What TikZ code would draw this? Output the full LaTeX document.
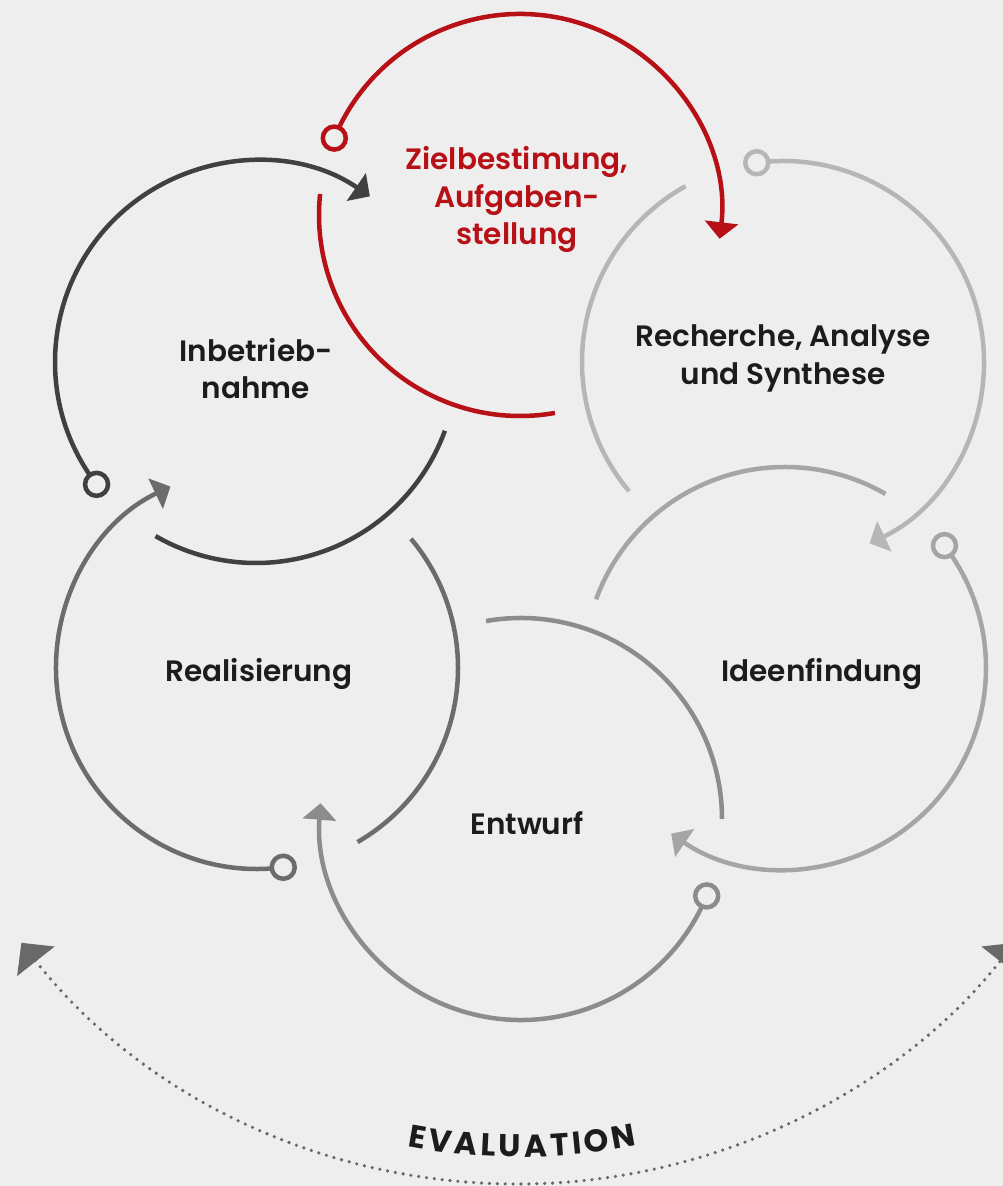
\documentclass[tikz,border=0pt]{standalone}
\usepackage{fontspec}
\setmainfont{Poppins}[UprightFont=* SemiBold, BoldFont=* Bold]
\usetikzlibrary{arrows.meta,calc}
\definecolor{bg}{RGB}{238,238,238}
\definecolor{cA}{RGB}{183,16,22}
\definecolor{cB}{RGB}{182,182,182}
\definecolor{cC}{RGB}{165,165,165}
\definecolor{cD}{RGB}{140,140,140}
\definecolor{cE}{RGB}{108,108,108}
\definecolor{cF}{RGB}{64,64,64}
\definecolor{txt}{RGB}{28,28,28}
\definecolor{evc}{RGB}{105,105,105}
\newdimen\evx
\newdimen\evlw
\newbox\evboxall
\newbox\evboxone
\newcommand\evfont{\fontsize{31.5}{36}\selectfont\bfseries}
\newcommand\evmeasure[1]{\setbox\evboxone=\hbox{\evfont #1}\expandafter\xdef\csname evw#1\endcsname{\the\wd\evboxone}}
\begin{document}
\evmeasure{E}\evmeasure{V}\evmeasure{A}\evmeasure{L}\evmeasure{U}\evmeasure{T}\evmeasure{I}\evmeasure{O}\evmeasure{N}%
\setbox\evboxall=\hbox{\evfont E\kern3.5pt V\kern3.5pt A\kern3.5pt L\kern3.5pt U\kern3.5pt A\kern3.5pt T\kern3.5pt I\kern3.5pt O\kern3.5pt N}%
\xdef\evtotal{\the\wd\evboxall}%
\begin{tikzpicture}[x=1pt,y=1pt,
  ring/.style={line width=4.5pt},
  ringtip/.style={-{Triangle[width=33pt,length=16.5pt]}},
  marker/.style={circle, fill=bg, line width=4.5pt, minimum size=23pt, inner sep=0pt},
  lbl/.style={font=\fontsize{29.5}{36}\selectfont, text=txt, inner sep=0pt, anchor=base},
  evline/.style={evc, line width=3.6pt, line cap=round, dash pattern=on 0pt off 7.9pt},
  evtip/.style={{Triangle[width=47pt,length=23.5pt]}-{Triangle[width=47pt,length=23.5pt]}},
  evletter/.style={font=\evfont, text=txt, inner sep=0pt, anchor=base}
]
\useasboundingbox (0,0) rectangle (1003,1186);
\fill[bg] (0,0) rectangle (1003,1186);

% evaluation arc
\coordinate (ev) at (518,634);
\draw[evline, evtip] (ev) ++(218.2:632pt) arc[start angle=218.2, end angle=321.8, radius=632pt];
\global\evx=-0.5\dimexpr\evtotal\relax
\foreach \l [count=\i] in {E,V,A,L,U,A,T,I,O,N}{
  \global\evlw=\csname evw\l\endcsname\relax
  \pgfmathsetmacro\ang{(\the\evx+0.5*\the\evlw)/605*57.29578+0.4}
  \global\advance\evx by \evlw
  \global\advance\evx by 3.5pt
  \node[evletter, rotate=\ang] (ev\i) at ($(ev)+({270+\ang}:605pt)$) {\l};
}

% six rings
\foreach \cx/\cy/\ph/\col/\ta/\be/\n in {
  520/971/90/cA/96.8/84/1,
  783/824/30/cB/94.5/89/2,
  785/518/-30/cC/94.5/90/3,
  521/367/-90/cD/94.5/90/4,
  257/518/-150/cE/94.5/90/5,
  256/824/150/cF/94.5/90/6}{
  \coordinate (c\n) at (\cx,\cy);
  \draw[ring, \col, ringtip] (c\n) ++({\ph+67.5}:201pt)
     arc[start angle=\ph+67.5, end angle=\ph-\ta, radius=201pt];
  \draw[ring, \col] (c\n) ++({\ph-170}:201pt)
     arc[start angle=\ph-170, end angle=\ph-360+\be, radius=201pt];
  \node[marker, draw=\col] (m\n) at ($(c\n)+({\ph+67.5}:201pt)$) {};
}

% labels
\node[lbl, text=cA] (ziel1) at (517,1016) {Zielbestimung,};
\node[lbl, text=cA] (ziel2) at (517,978) {Aufgaben-};
\node[lbl, text=cA] (ziel3) at (517,941) {stellung};
\node[lbl] (rech1) at (783,839) {Recherche, Analyse};
\node[lbl] (rech2) at (783,801) {und Synthese};
\node[lbl] (idee) at (822,504) {Ideenfindung};
\node[lbl] (entw) at (527,351) {Entwurf};
\node[lbl] (real) at (259,504) {Realisierung};
\node[lbl] (inbe1) at (256,824) {Inbetrieb-};
\node[lbl] (inbe2) at (256,787) {nahme};
\end{tikzpicture}
\end{document}
